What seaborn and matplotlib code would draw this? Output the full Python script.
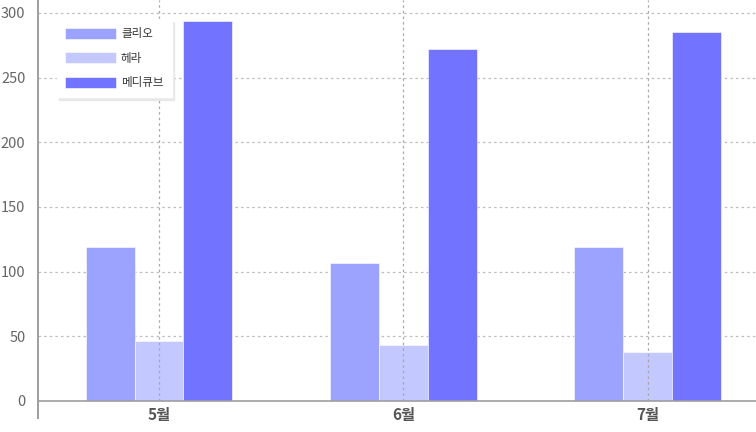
"""
월별 브랜드 판매량 막대그래프 (클리오 / 헤라 / 메디큐브)
"""

import matplotlib
matplotlib.use("Agg")
import matplotlib.pyplot as plt
import pandas as pd
import seaborn as sns

MONTHS = ["5월", "6월", "7월"]
BRANDS = ["클리오", "헤라", "메디큐브"]
CLIO = [119, 107, 119]
HERA = [46, 43, 38]
MEDICUBE = [294, 272, 285]
COLORS = ["#9ba3ff", "#c3c8fe", "#7274ff"]

sns.set_theme(style="white")
plt.rcParams["font.family"] = ["Noto Sans CJK KR", "DejaVu Sans"]
plt.rcParams["axes.unicode_minus"] = False

df = pd.DataFrame({
    "month": MONTHS * 3,
    "brand": [b for b in BRANDS for _ in MONTHS],
    "value": CLIO + HERA + MEDICUBE,
})

fig = plt.figure(figsize=(7.56, 4.32), dpi=100)
# 오른쪽은 원본처럼 잘린 형태
ax = fig.add_axes([38 / 756, 31 / 432, 733 / 756, 401 / 432])

sns.barplot(
    data=df, x="month", y="value", hue="brand",
    palette=COLORS, width=0.6, saturation=1,
    edgecolor="white", linewidth=0.4, ax=ax,
)

ax.set_xlim(-0.495, 2.505)
ax.set_ylim(0, 310)
ax.set_yticks(range(0, 301, 50))
ax.set_xlabel("")
ax.set_ylabel("")

# 가로 그리드는 막대 뒤, 세로 그리드는 막대 위
ax.set_axisbelow(True)
ax.grid(axis="y", linestyle=(0, (2, 2.5)), color="#bdbdbd", linewidth=0.9)
for xt in ax.get_xticks():
    ax.axvline(xt, linestyle=(0, (2, 2.5)), color="#a8a8a8", linewidth=0.9, zorder=5)

for side in ["top", "right"]:
    ax.spines[side].set_visible(False)
ax.spines["left"].set_color("#9e9e9e")
ax.spines["left"].set_linewidth(1.4)
ax.spines["left"].set_bounds(-13, 310)
ax.spines["bottom"].set_color("#9e9e9e")
ax.spines["bottom"].set_linewidth(1.2)

ax.tick_params(axis="y", direction="in", length=6, width=1.2, color="#9e9e9e",
               pad=9, labelsize=10.5, labelcolor="#666666")
ax.tick_params(axis="x", length=0, pad=4, labelsize=11, labelcolor="#555555")
for lbl in ax.get_xticklabels():
    lbl.set_fontweight("bold")

leg = ax.legend(
    loc="upper left", bbox_to_anchor=(19 / 733, 1 - 19 / 401),
    fontsize=8.3, frameon=True, handlelength=4.4, handleheight=1.1,
    labelspacing=1.0, handletextpad=0.45, borderpad=0.7, borderaxespad=0,
    fancybox=False, edgecolor="white",
    shadow={"ox": 1.5, "oy": -2, "color": "#e4e4e4", "alpha": 0.8},
)
for t in leg.get_texts():
    t.set_color("#333333")

fig.savefig("out.png", dpi=100)
plt.close(fig)
